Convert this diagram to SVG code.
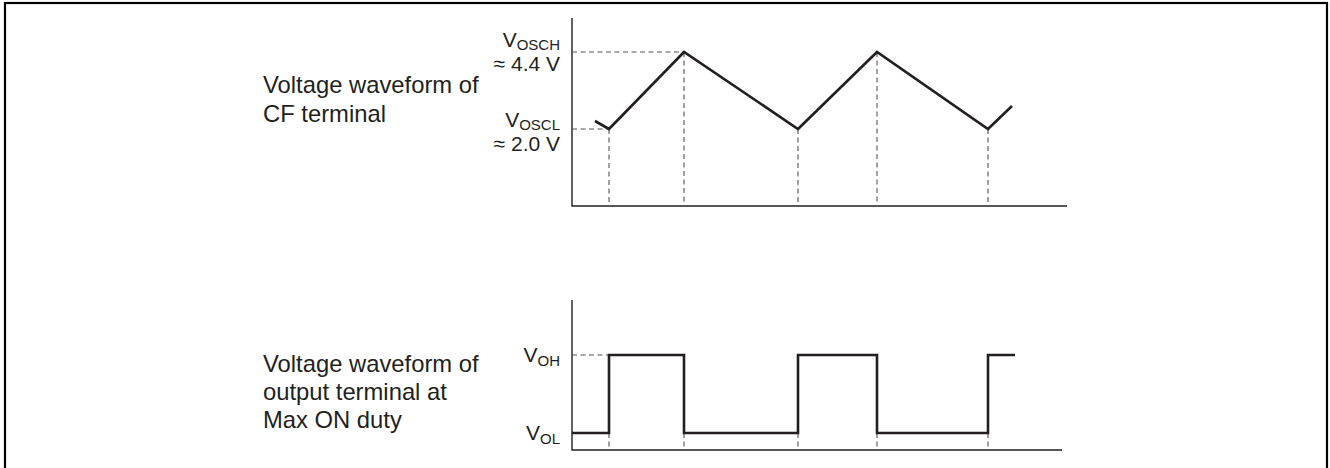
<svg xmlns="http://www.w3.org/2000/svg" width="1330" height="468" viewBox="0 0 1330 468">
<style>
.t{font-family:"Liberation Sans",Arial,sans-serif;font-size:23.8px;fill:#231f20}
.l{font-family:"Liberation Sans",Arial,sans-serif;font-size:21px;fill:#231f20}
.s{font-size:15px}
.ax{stroke:#231f20;stroke-width:1.4;fill:none}
.wv{stroke:#231f20;stroke-width:2.6;fill:none;stroke-linejoin:miter}
.ds{stroke:#555;stroke-width:1.1;stroke-dasharray:5 3.5;fill:none}
</style>
<rect x="5" y="3" width="1322" height="470" fill="#fff" stroke="#000" stroke-width="2.2"/>
<g id="label-cf">
<text class="t" x="263" y="93">Voltage waveform of</text>
<text class="t" x="263" y="122">CF terminal</text>
</g>
<g id="label-out">
<text class="t" x="263" y="372">Voltage waveform of</text>
<text class="t" x="263" y="400">output terminal at</text>
<text class="t" x="263" y="428">Max ON duty</text>
</g>
<g id="levels">
<text class="l" x="560" y="47" text-anchor="end">V<tspan class="s" dy="3">OSCH</tspan></text>
<text class="l" x="560" y="71" text-anchor="end">≈ 4.4 V</text>
<text class="l" x="560" y="127" text-anchor="end">V<tspan class="s" dy="3">OSCL</tspan></text>
<text class="l" x="560" y="151" text-anchor="end">≈ 2.0 V</text>
<text class="l" x="560" y="362" text-anchor="end">V<tspan class="s" dy="4">OH</tspan></text>
<text class="l" x="560" y="440" text-anchor="end">V<tspan class="s" dy="4">OL</tspan></text>
</g>
<g id="cf-chart">
<path class="ax" d="M572 18V206H1067"/>
<path class="ds" d="M572 52H684M572 129H609M609 129V206M684 52V206M798 129V206M877 52V206M988 129V206"/>
<path class="wv" d="M595 121L609 129L684 52L798 129L877 52L988 129L1012 106"/>
</g>
<g id="out-chart">
<path class="ax" d="M572 300V450H1062"/>
<path class="ds" d="M572 355H609M609 433V450M684 433V450M798 433V450M877 433V450M988 433V450"/>
<path class="wv" d="M572 433H609V355H684V433H798V355H877V433H988V355H1015"/>
</g>
</svg>
